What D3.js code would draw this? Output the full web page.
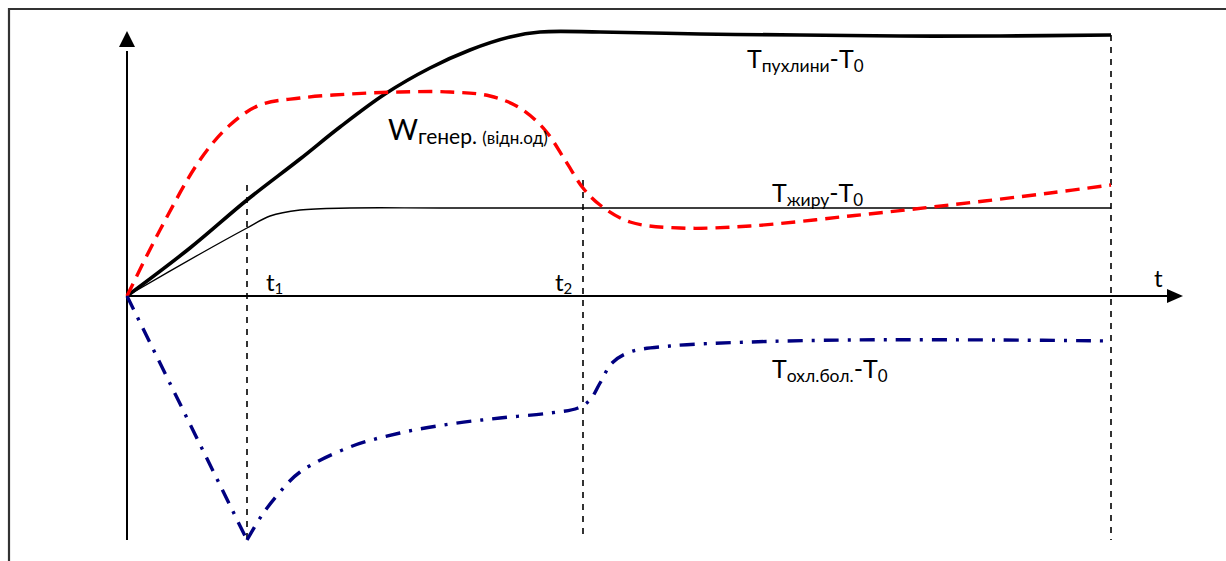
<!DOCTYPE html>
<html><head><meta charset="utf-8">
<script src="https://cdn.jsdelivr.net/npm/d3@7/dist/d3.min.js"></script>
<style>html,body{margin:0;padding:0;background:#fff;}svg{display:block;}</style>
</head><body>
<svg id="c" width="1226" height="561"></svg>
<script>
// time in units of t1; values in relative units
const tMarks = [1, 3.8, 8.2];
const tMarkTops = [1.11, 1.16, 2.61];
const tumorX = [0, 0.525, 1, 1.442, 1.775, 2.15, 2.525, 2.858, 3.192, 3.442, 3.942, 4.775, 5.608, 6.442, 7.275, 8.2];
const tumorY = [0, 0.48, 0.96, 1.37, 1.69, 2.02, 2.28, 2.46, 2.59, 2.64, 2.64, 2.62, 2.61, 2.60, 2.60, 2.61];
const wX = [0, 0.275, 0.608, 0.858, 1.108, 1.442, 1.858, 2.275, 2.692, 3.025, 3.275, 3.483, 3.65, 3.8, 3.942, 4.192, 4.608, 5.192, 6.025, 6.858, 7.692, 8.2];
const wY = [0, 0.66, 1.36, 1.71, 1.91, 1.98, 2.02, 2.04, 2.04, 2.00, 1.88, 1.66, 1.36, 1.08, 0.91, 0.74, 0.68, 0.70, 0.80, 0.91, 1.03, 1.11];
const fatX = [0, 0.608, 1, 1.192, 1.442, 1.858, 2.692, 8.2];
const fatY = [0, 0.42, 0.68, 0.80, 0.86, 0.88, 0.88, 0.88];
const coolX1 = [0, 1];
const coolY1 = [0, -2.44];
const coolX2 = [1, 1.125, 1.275, 1.442, 1.858, 2.275, 2.692, 3.108, 3.525, 3.758, 3.858, 3.942, 4.042, 4.192, 4.525, 5.192, 6.025, 7.275, 8.2];
const coolY2 = [-2.44, -2.19, -1.96, -1.76, -1.51, -1.37, -1.28, -1.22, -1.17, -1.12, -1.04, -0.87, -0.67, -0.56, -0.50, -0.46, -0.44, -0.44, -0.45];

const svg = d3.select("#c");
const x = d3.scaleLinear().domain([0, 8.8]).range([127, 1183]);
const y = d3.scaleLinear().domain([-2.44, 2.65]).range([540, 31]);
const F = "Lato, 'Open Sans', sans-serif";

// frame
svg.append("path").attr("d", "M9,561 V9 H1226").attr("fill","none").attr("stroke","#333").attr("stroke-width",2.2);

const zip = (a,b) => a.map((v,i)=>[v,b[i]]);
const smooth = d3.line().x(d=>x(d[0])).y(d=>y(d[1])).curve(d3.curveCatmullRom.alpha(0.5));
const straight = d3.line().x(d=>x(d[0])).y(d=>y(d[1]));

// vertical dashed markers
tMarks.forEach((t,i)=>{
  svg.append("line").attr("x1",x(t)).attr("x2",x(t)).attr("y1",y(tMarkTops[i])).attr("y2",y(-2.44))
    .attr("stroke","#000").attr("stroke-width",1.6).attr("stroke-dasharray","6,6");
});

// axes
svg.append("line").attr("x1",x(0)).attr("x2",x(0)).attr("y1",y(-2.44)).attr("y2",y(2.45)).attr("stroke","#000").attr("stroke-width",2);
svg.append("path").attr("d",`M${x(0)},${y(2.65)} L${x(0)-8},${y(2.49)} L${x(0)+8},${y(2.49)} Z`).attr("fill","#000");
svg.append("line").attr("x1",x(0)).attr("x2",x(8.7)).attr("y1",y(0)).attr("y2",y(0)).attr("stroke","#000").attr("stroke-width",2);
svg.append("path").attr("d",`M${x(8.8)},${y(0)} L${x(8.8)-16},${y(0)-7} L${x(8.8)-16},${y(0)+7} Z`).attr("fill","#000");

// curves
svg.append("path").attr("d", smooth(zip(fatX,fatY))).attr("fill","none").attr("stroke","#000").attr("stroke-width",1.4);
svg.append("path").attr("d", smooth(zip(tumorX,tumorY))).attr("fill","none").attr("stroke","#000").attr("stroke-width",3.6);
svg.append("path").attr("d", smooth(zip(wX,wY))).attr("fill","none").attr("stroke","#ff0000").attr("stroke-width",3.4).attr("stroke-dasharray","14,8");
svg.append("path").attr("d", straight(zip(coolX1,coolY1)) + smooth(zip(coolX2,coolY2)))
  .attr("fill","none").attr("stroke","#000080").attr("stroke-width",3.4).attr("stroke-dasharray","15,9,3,9");

// labels
function lab(px, py, parts){
  const t = svg.append("text").attr("x",px).attr("y",py).attr("font-family",F).attr("fill","#000");
  parts.forEach(p=>{
    const s = t.append("tspan").attr("font-size",p[1]).text(p[0]);
    if (p[2]) s.attr("dy", p[2]);
  });
}
lab(747, 68, [["T",25],["пухлини",17.5,4],["-T",25,-4],["0",17,4]]);
lab(772, 202, [["T",25],["жиру",17.5,4],["-T",25,-4],["0",17,4]]);
lab(772, 378, [["T",25],["охл.бол.",17.5,4],["-T",25,-4],["0",17,4]]);
lab(388, 140, [["W",29],["генер. ",21,4],["(відн.од)",17]]);
lab(266, 291, [["t",24],["1",15,3]]);
lab(555, 291, [["t",24],["2",15,3]]);
lab(1154, 287, [["t",24]]);
</script>
</body></html>
